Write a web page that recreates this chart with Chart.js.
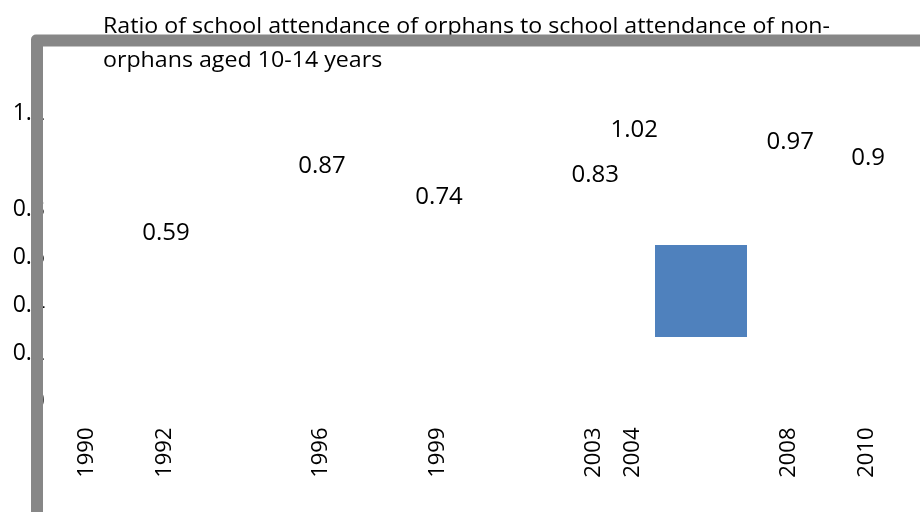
<!DOCTYPE html>
<html lang="en">
<head>
    <meta charset="UTF-8">
    <title>Orphans school attendance ratio</title>
    <script src="https://cdn.jsdelivr.net/npm/chart.js"></script>
    <style>
        body { margin: 0; background: #fff; }
    </style>
</head>
<body>
    <canvas id="myChart" width="920" height="512"></canvas>
    <script>
        // datos
        var years = [1990, 1992, 1996, 1999, 2003, 2004, 2008, 2010];
        var ratio = [null, 0.59, 0.87, 0.74, 0.83, 1.02, 0.97, 0.9];
        var yTicks = [0, 0.2, 0.4, 0.6, 0.8, 1, 1.2];
        var titleLines = ['Ratio of school attendance of orphans to school attendance of non-',
                          'orphans aged 10-14 years'];

        var points = years.map(function (y, i) { return { x: y, y: ratio[i] }; });

        // etiquetas encima de cada punto
        var valueLabels = {
            id: 'valueLabels',
            afterDatasetsDraw: function (chart) {
                var ctx = chart.ctx;
                var meta = chart.getDatasetMeta(0);
                ctx.save();
                ctx.font = '24px "Open Sans"';
                ctx.fillStyle = '#000';
                ctx.textAlign = 'center';
                ctx.textBaseline = 'middle';
                meta.data.forEach(function (pt, i) {
                    if (ratio[i] === null) return;
                    ctx.fillText(String(ratio[i]), pt.x + 1, pt.y - 27);
                });
                ctx.restore();
            }
        };

        // marco gris, titulo y cuadro de leyenda
        var decor = {
            id: 'decor',
            afterDraw: function (chart) {
                var ctx = chart.ctx;
                ctx.save();
                // leyenda (solo el cuadro)
                ctx.fillStyle = chart.data.datasets[0].backgroundColor;
                ctx.fillRect(655, 245, 92, 92);

                // titulo
                ctx.fillStyle = '#000';
                ctx.font = '22px "Open Sans", sans-serif';
                ctx.textBaseline = 'alphabetic';
                var w = ctx.measureText(titleLines[0]).width;
                var sx = 727 / w;
                titleLines.forEach(function (t, i) {
                    ctx.save();
                    ctx.translate(103, 33.3 + i * 33.4);
                    ctx.scale(sx, 1);
                    ctx.fillText(t, 0, 0);
                    ctx.restore();
                });

                // marco
                ctx.fillStyle = '#878787';
                ctx.beginPath();
                ctx.roundRect(31, 34.5, 2000, 2000, 5);
                ctx.rect(43, 46.5, 2000, 2000);
                ctx.fill('evenodd');
                ctx.restore();
            }
        };

        var config = {
            type: 'line',
            data: {
                datasets: [{
                    label: 'Ratio',
                    data: points,
                    showLine: false,
                    pointRadius: 0,
                    backgroundColor: '#4F81BD',
                    borderColor: '#4F81BD'
                }]
            },
            options: {
                responsive: false,
                animation: false,
                layout: { padding: { top: 113.5, right: 8.5, left: 0, bottom: 0 } },
                plugins: {
                    legend: { display: false },
                    title: { display: false },
                    tooltip: { enabled: false }
                },
                scales: {
                    x: {
                        type: 'linear',
                        min: 1989,
                        max: 2011,
                        grid: { display: false, drawTicks: false },
                        border: { display: false },
                        afterBuildTicks: function (scale) {
                            scale.ticks = years.map(function (v) { return { value: v }; });
                        },
                        afterFit: function (scale) { scale.height = 110.5; },
                        ticks: {
                            minRotation: 90,
                            maxRotation: 90,
                            padding: 26,
                            color: '#000',
                            font: { family: 'Open Sans', size: 22 },
                            callback: function (v) { return String(v); }
                        }
                    },
                    y: {
                        min: 0,
                        max: 1.2,
                        grid: { display: false, drawTicks: false },
                        border: { display: false },
                        afterBuildTicks: function (scale) {
                            scale.ticks = yTicks.map(function (v) { return { value: v }; });
                        },
                        afterFit: function (scale) { scale.width = 48; },
                        ticks: {
                            padding: 3,
                            color: '#000',
                            font: { family: 'Open Sans', size: 23 },
                            callback: function (v) { return String(Math.round(v * 10) / 10); }
                        }
                    }
                }
            },
            plugins: [valueLabels, decor]
        };

        var myChart = new Chart(document.getElementById('myChart'), config);
    </script>
</body>
</html>
